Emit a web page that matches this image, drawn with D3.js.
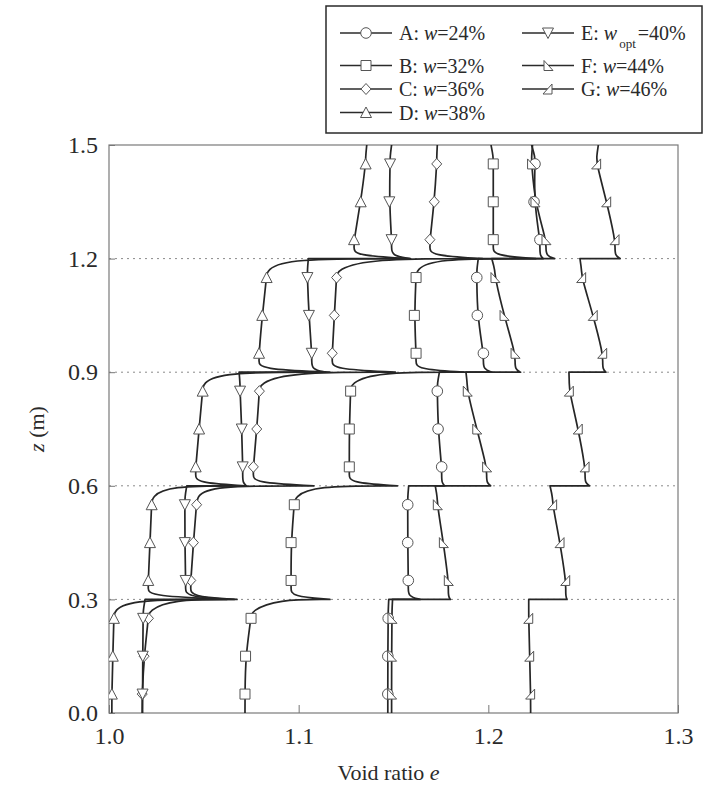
<!DOCTYPE html>
<html>
<head>
<meta charset="utf-8">
<script src="https://cdn.jsdelivr.net/npm/d3@7"></script>
<style>
  body { margin: 0; background: #fff; }
  text { font-family: "Liberation Serif", "Times New Roman", serif; fill: #2a2a2a; }
</style>
</head>
<body>
<div id="chart"></div>
<script>
// axis ticks
const xTicks = [1.0, 1.1, 1.2, 1.3];
const yTicks = [0.0, 0.3, 0.6, 0.9, 1.2, 1.5];
const gridZ = [0.3, 0.6, 0.9, 1.2];
const layerThick = 0.3;
const markerZ = [0.05, 0.15, 0.25];   // marker heights inside each layer

// one row per layer (bottom to top):
// [spike tip at layer bottom, e at z0+0.05, e at z0+0.15, e at z0+0.25, e at layer top]
const A = [
  [null,   1.1470, 1.1470, 1.1472, 1.1475],
  [1.164,  1.1578, 1.1575, 1.1575, 1.1580],
  [1.177,  1.1754, 1.1735, 1.1731, 1.1742],
  [1.202,  1.1974, 1.1942, 1.1939, 1.1947],
  [1.229,  1.2272, 1.2241, 1.2246, 1.2228]
];
const B = [
  [null,   1.0717, 1.0720, 1.0749, 1.0890],
  [1.1165, 1.0960, 1.0960, 1.0977, 1.1080],
  [1.152,  1.1267, 1.1267, 1.1274, 1.1400],
  [1.187,  1.1619, 1.1610, 1.1619, 1.1710],
  [1.225,  1.2026, 1.2026, 1.2026, 1.2014]
];
const C = [
  [null,   1.0175, 1.0185, 1.0208, 1.0330],
  [1.066,  1.0431, 1.0445, 1.0462, 1.0530],
  [1.108,  1.0761, 1.0779, 1.0793, 1.0950],
  [1.151,  1.1177, 1.1188, 1.1200, 1.1370],
  [1.197,  1.1692, 1.1715, 1.1728, 1.1731]
];
const D = [
  [null,   1.0015, 1.0020, 1.0026, 1.0110],
  [1.0675, 1.0207, 1.0216, 1.0225, 1.0310],
  [1.072,  1.0457, 1.0475, 1.0494, 1.0585],
  [1.1165, 1.0791, 1.0808, 1.0831, 1.0937],
  [1.159,  1.1292, 1.1327, 1.1353, 1.1359]
];
const E = [
  [null,   1.0177, 1.0178, 1.0180, 1.0190],
  [1.062,  1.0404, 1.0400, 1.0400, 1.0410],
  [1.0725, 1.0705, 1.0700, 1.0691, 1.0686],
  [1.114,  1.1069, 1.1054, 1.1046, 1.1051],
  [1.1585, 1.1490, 1.1478, 1.1482, 1.1490]
];
const F = [
  [null,   1.1490, 1.1490, 1.1492, 1.1495],
  [1.180,  1.1789, 1.1763, 1.1731, 1.1720],
  [1.2012, 1.1991, 1.1939, 1.1889, 1.1882],
  [1.217,  1.2141, 1.2083, 1.2035, 1.2018],
  [1.235,  1.2304, 1.2246, 1.2228, 1.2233]
];
const G = [
  [null,   1.2223, 1.2218, 1.2213, 1.2213],
  [1.2415, 1.2408, 1.2378, 1.2339, 1.2325],
  [1.2533, 1.2510, 1.2474, 1.2427, 1.2425],
  [1.262,  1.2603, 1.2553, 1.2492, 1.2483],
  [1.2695, 1.2668, 1.2624, 1.2571, 1.2580]
];

const seriesKeys = ["A", "B", "C", "D", "E", "F", "G"];
const waterContents = ["24", "32", "36", "38", "40", "44", "46"];
const symbols = ["circle", "square", "diamond", "triUp", "triDown", "rtLeft", "rtRight"];
const rowsByKey = { A, B, C, D, E, F, G };

const W = 709, H = 794;
const margin = { top: 145, right: 31, bottom: 81, left: 109 };
const pw = W - margin.left - margin.right, ph = H - margin.top - margin.bottom;

const svg = d3.select("#chart").append("svg")
  .attr("width", W).attr("height", H);

const g = svg.append("g")
  .attr("transform", "translate(" + margin.left + "," + margin.top + ")");

const x = d3.scaleLinear().domain([1.0, 1.3]).range([0, pw]);
const y = d3.scaleLinear().domain([0, 1.5]).range([ph, 0]);

// dotted layer boundaries
g.selectAll(".grid").data(gridZ).enter().append("line")
  .attr("x1", 0).attr("x2", pw)
  .attr("y1", d => y(d)).attr("y2", d => y(d))
  .attr("stroke", "#8a8a8a").attr("stroke-width", 1)
  .attr("stroke-dasharray", "2,4");

// axes
const xAxis = d3.axisBottom(x).tickValues(xTicks).tickFormat(d3.format(".1f"))
  .tickSizeInner(-8).tickSizeOuter(0).tickPadding(9);
const yAxis = d3.axisLeft(y).tickValues(yTicks).tickFormat(d3.format(".1f"))
  .tickSizeInner(-6).tickSizeOuter(0).tickPadding(11);

const gx = g.append("g").attr("transform", "translate(0," + ph + ")").call(xAxis);
const gy = g.append("g").call(yAxis);
[gx, gy].forEach(a => {
  a.select(".domain").remove();
  a.selectAll(".tick line").attr("stroke", "#777");
  a.selectAll(".tick text").style("font-size", "24px").attr("fill", "#2a2a2a")
    .style("font-family", "'Liberation Serif', 'Times New Roman', serif");
});
gx.selectAll(".tick text").attr("dy", "0.9em");

g.append("rect").attr("width", pw).attr("height", ph)
  .attr("fill", "none").attr("stroke", "#7a7a7a").attr("stroke-width", 1.2);

// axis titles
svg.append("text").attr("x", margin.left + pw / 2 - 5).attr("y", 780)
  .attr("text-anchor", "middle").style("font-size", "22px")
  .html('Void ratio <tspan font-style="italic">e</tspan>');
svg.append("text")
  .attr("transform", "translate(44," + (margin.top + ph / 2) + ") rotate(-90)")
  .attr("text-anchor", "middle").style("font-size", "22px")
  .html('<tspan font-style="italic">z</tspan> (m)');

// profile path control points (repeated points give sharp corners in the basis curve)
function profile(rows) {
  const pts = [];
  rows.forEach((r, k) => {
    const z0 = k * layerThick, zt = z0 + layerThick;
    const [tip, e05, e15, e25, top] = r;
    if (tip == null) {
      pts.push([e05, z0], [e05, z0], [e05, z0]);
    } else {
      pts.push([tip, z0], [tip, z0], [tip, z0], [e05, z0 + 0.008], [e05, z0 + 0.03]);
    }
    pts.push([e05, z0 + markerZ[0]], [e15, z0 + markerZ[1]], [e25, z0 + markerZ[2]]);
    if (k < rows.length - 1 && top - e25 > 0.003) {
      pts.push([e25, z0 + 0.27], [top, zt]);          // rounded corner into the boundary
    } else {
      pts.push([e25, z0 + 0.27], [top, zt], [top, zt], [top, zt]);   // square step
    }
  });
  return pts;
}

const line = d3.line().x(d => x(d[0])).y(d => y(d[1])).curve(d3.curveBasis);

g.append("clipPath").attr("id", "clip").append("rect")
  .attr("width", pw).attr("height", ph);

const plot = g.append("g").attr("clip-path", "url(#clip)");

seriesKeys.forEach(k => {
  plot.append("path").datum(profile(rowsByKey[k]))
    .attr("fill", "none").attr("stroke", "#262626").attr("stroke-width", 1.7)
    .attr("stroke-linejoin", "round")
    .attr("d", line);
});

function symbolPath(type, s) {
  const h = s / 2;
  switch (type) {
    case "circle": return d3.symbol(d3.symbolCircle, Math.PI * (h + 0.3) * (h + 0.3))();
    case "square": return `M${-h},${-h}H${h}V${h}H${-h}Z`;
    case "diamond": return `M0,${-h - 0.5}L${h},0L0,${h + 0.5}L${-h},0Z`;
    case "triUp": return `M0,${-h - 0.5}L${h + 0.5},${h}L${-h - 0.5},${h}Z`;
    case "triDown": return `M0,${h + 0.5}L${h + 0.5},${-h}L${-h - 0.5},${-h}Z`;
    case "rtLeft": return `M${-h + 1},${-h}L${-h + 1},${h}L${h},${h}Z`;
    case "rtRight": return `M${h - 1},${-h}L${h - 1},${h}L${-h},${h}Z`;
  }
}

seriesKeys.forEach((k, i) => {
  const pts = [];
  rowsByKey[k].forEach((r, li) => {
    markerZ.forEach((mz, j) => pts.push([r[j + 1], li * layerThick + mz]));
  });
  plot.selectAll(".m" + k).data(pts).enter().append("path")
    .attr("transform", d => "translate(" + x(d[0]) + "," + y(d[1]) + ")")
    .attr("d", symbolPath(symbols[i], 10))
    .attr("fill", "#fff").attr("stroke", "#555").attr("stroke-width", 1);
});

// legend
const lg = svg.append("g");
lg.append("rect").attr("x", 326).attr("y", 6).attr("width", 376).attr("height", 127)
  .attr("fill", "#fff").attr("stroke", "#2a2a2a").attr("stroke-width", 1.5);

const legendPos = [
  [340, 33], [340, 65.5], [340, 89], [340, 112.5],
  [522, 33], [522, 65.5], [522, 89]
];
seriesKeys.forEach((k, i) => {
  const [lx, ly] = legendPos[i];
  const item = lg.append("g").attr("transform", "translate(" + lx + "," + ly + ")");
  item.append("line").attr("x1", 0).attr("x2", 52).attr("y1", 0).attr("y2", 0)
    .attr("stroke", "#2b2b2b").attr("stroke-width", 1.6);
  item.append("path").attr("transform", "translate(26,0)")
    .attr("d", symbolPath(symbols[i], 10))
    .attr("fill", "#fff").attr("stroke", "#555").attr("stroke-width", 1);
  const t = item.append("text").attr("x", 59).attr("y", 7).style("font-size", "20px");
  t.append("tspan").text(k + ": ");
  t.append("tspan").attr("font-style", "italic").text("w");
  if (k === "E") {
    t.append("tspan").attr("dy", 8).style("font-size", "13px").attr("dx", 2).text("opt");
    t.append("tspan").attr("dy", -8).attr("dx", 2).text("=" + waterContents[i] + "%");
  } else {
    t.append("tspan").text("=" + waterContents[i] + "%");
  }
});
</script>
</body>
</html>
